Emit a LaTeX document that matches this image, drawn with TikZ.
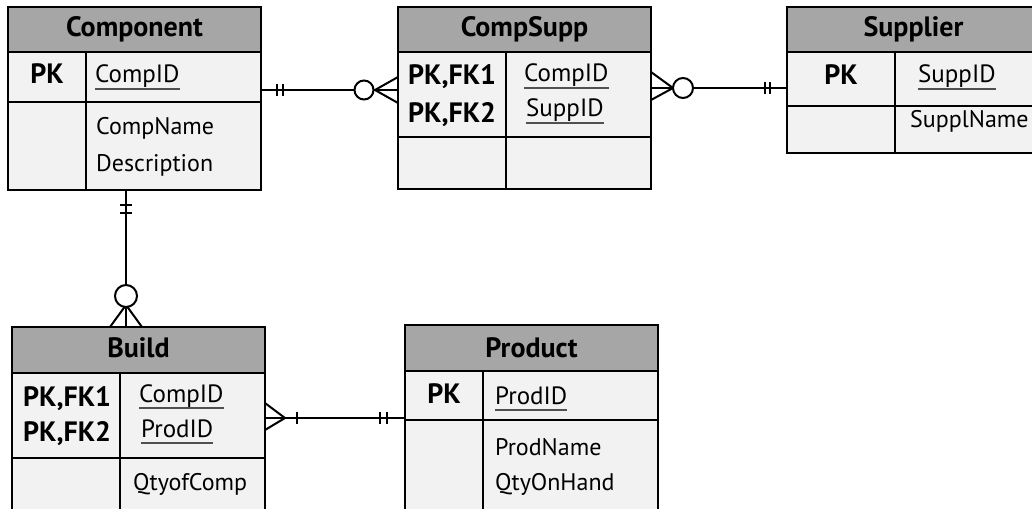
\documentclass[tikz,border=0pt]{standalone}
\usepackage{fontspec}
\setmainfont{PT Sans}
\definecolor{headgray}{HTML}{A6A6A6}
\definecolor{cellgray}{HTML}{F2F2F2}
\definecolor{linegray}{HTML}{505050}
\usetikzlibrary{positioning}

\begin{document}
\begin{tikzpicture}[x=1pt, y=-1pt,
    grid/.style={line width=2.4pt},
    rel/.style={line width=2pt},
    title/.style={anchor=base, inner sep=0pt, font=\fontsize{28}{32}\selectfont\bfseries},
    pk/.style={anchor=base, inner sep=0pt, font=\fontsize{28}{32}\selectfont\bfseries},
    pkfk/.style={pk, anchor=base west},
    key/.style={anchor=base west, inner sep=0pt, font=\fontsize{25}{29}\selectfont},
    attr/.style={anchor=base west, inner sep=0pt, font=\fontsize{24}{28}\selectfont},
    uline/.style={line width=1.2pt, linegray}]
  \useasboundingbox (0,0) rectangle (1032,508);
  \clip (0,0) rectangle (1032,508);
  % Component
  \filldraw[grid, fill=cellgray] (8,52) rectangle (261,190);
  \filldraw[grid, fill=headgray] (8,7) rectangle (261,52);
  \draw[grid] (8,102) -- (261,102) (86,52) -- (86,190);
  \node[title] (comp) at (134.5,37) {Component};
  \node[pk] (comp-pk) at (47,84) {PK};
  \node[key] (comp-id) at (95,83) {CompID};
  \draw[uline] ([yshift=-6pt]comp-id.base west) -- ([yshift=-6pt]comp-id.base east);
  \node[attr] (comp-name) at (96,135) {CompName};
  \node[attr] (comp-desc) at (96,171) {Description};
  % CompSupp
  \filldraw[grid, fill=cellgray] (398,52) rectangle (651,189);
  \filldraw[grid, fill=headgray] (398,7) rectangle (651,52);
  \draw[grid] (398,137) -- (651,137) (506,52) -- (506,189);
  \node[title] (cs) at (524.5,37) {CompSupp};
  \node[pkfk] (cs-pk1) at (408,85) {PK,FK1};
  \node[pkfk] (cs-pk2) at (408,122) {PK,FK2};
  \node[key] (cs-cid) at (524,82) {CompID};
  \draw[uline] ([yshift=-6pt]cs-cid.base west) -- ([yshift=-6pt]cs-cid.base east);
  \node[key] (cs-sid) at (526,117) {SuppID};
  \draw[uline] ([yshift=-6pt]cs-sid.base west) -- ([yshift=-6pt]cs-sid.base east);
  % Supplier
  \filldraw[grid, fill=cellgray] (787,52) rectangle (1040,153);
  \filldraw[grid, fill=headgray] (787,7) rectangle (1040,52);
  \draw[grid] (787,106) -- (1040,106) (895,52) -- (895,153);
  \node[title] (supp) at (913.5,37) {Supplier};
  \node[pk] (supp-pk) at (841,85) {PK};
  \node[key] (supp-id) at (918,83) {SuppID};
  \draw[uline] ([yshift=-6pt]supp-id.base west) -- ([yshift=-6pt]supp-id.base east);
  \node[attr] (supp-name) at (910,128) {SupplName};
  % Build
  \filldraw[grid, fill=cellgray] (12,373) rectangle (265,520);
  \filldraw[grid, fill=headgray] (12,327) rectangle (265,373);
  \draw[grid] (12,458) -- (265,458) (120,373) -- (120,520);
  \node[title] (build) at (138.5,357) {Build};
  \node[pkfk] (build-pk1) at (23,406) {PK,FK1};
  \node[pkfk] (build-pk2) at (23,441) {PK,FK2};
  \node[key] (build-cid) at (139,402) {CompID};
  \draw[uline] ([yshift=-6pt]build-cid.base west) -- ([yshift=-6pt]build-cid.base east);
  \node[key] (build-pid) at (141,437) {ProdID};
  \draw[uline] ([yshift=-6pt]build-pid.base west) -- ([yshift=-6pt]build-pid.base east);
  \node[attr] (build-qty) at (133,490) {QtyofComp};
  % Product
  \filldraw[grid, fill=cellgray] (405,371) rectangle (658,520);
  \filldraw[grid, fill=headgray] (405,325) rectangle (658,371);
  \draw[grid] (405,420) -- (658,420) (483,371) -- (483,520);
  \node[title] (prod) at (531.5,357) {Product};
  \node[pk] (prod-pk) at (444,403) {PK};
  \node[key] (prod-id) at (495,404) {ProdID};
  \draw[uline] ([yshift=-6pt]prod-id.base west) -- ([yshift=-6pt]prod-id.base east);
  \node[attr] (prod-name) at (495,455) {ProdName};
  \node[attr] (prod-qty) at (495,490) {QtyOnHand};
  % Relationship ends
  \coordinate (comp-e) at (261,90);
  \coordinate (cs-w) at (398,90);
  \coordinate (cs-e) at (651,88);
  \coordinate (supp-w) at (787,88);
  \coordinate (comp-s) at (126,190);
  \coordinate (build-n) at (126,327);
  \coordinate (build-e) at (265,418);
  \coordinate (prod-w) at (405,418);
  % Component -- CompSupp
  \draw[rel] (comp-e) -- (cs-w);
  \draw[rel] ([xshift=16pt]comp-e) ++(0,-6) -- ++(0,12) ++(6,0) -- ++(0,-12);
  \draw[rel] ([yshift=13pt]cs-w) -- ([xshift=-23pt]cs-w) -- ([yshift=-13pt]cs-w);
  \draw[rel, fill=white] ([xshift=-34pt]cs-w) circle (9.5pt);
  % CompSupp -- Supplier
  \draw[rel] (cs-e) -- (supp-w);
  \draw[rel] ([yshift=16pt]cs-e) -- ([xshift=22pt]cs-e) -- ([yshift=-12pt]cs-e);
  \draw[rel, fill=white] ([xshift=32pt]cs-e) circle (10pt);
  \draw[rel] ([xshift=-22pt]supp-w) ++(0,-6) -- ++(0,12) ++(5,0) -- ++(0,-12);
  % Component -- Build
  \draw[rel] (comp-s) -- (build-n);
  \draw[rel] ([yshift=-15pt]comp-s) ++(-6,0) -- ++(12,0) ++(0,8) -- ++(-12,0);
  \draw[rel] ([xshift=-16pt]build-n) -- ([yshift=22pt]build-n) -- ([xshift=16pt]build-n);
  \draw[rel, fill=white] ([yshift=31pt]build-n) circle (11pt);
  % Build -- Product
  \draw[rel] (build-e) -- (prod-w);
  \draw[rel] ([yshift=15pt]build-e) -- ([xshift=20pt]build-e) -- ([yshift=-12pt]build-e);
  \draw[rel] ([xshift=32pt]build-e) ++(0,-6) -- ++(0,12);
  \draw[rel] ([xshift=-25pt]prod-w) ++(0,-6) -- ++(0,12) ++(7,0) -- ++(0,-12);
\end{tikzpicture}
\end{document}
